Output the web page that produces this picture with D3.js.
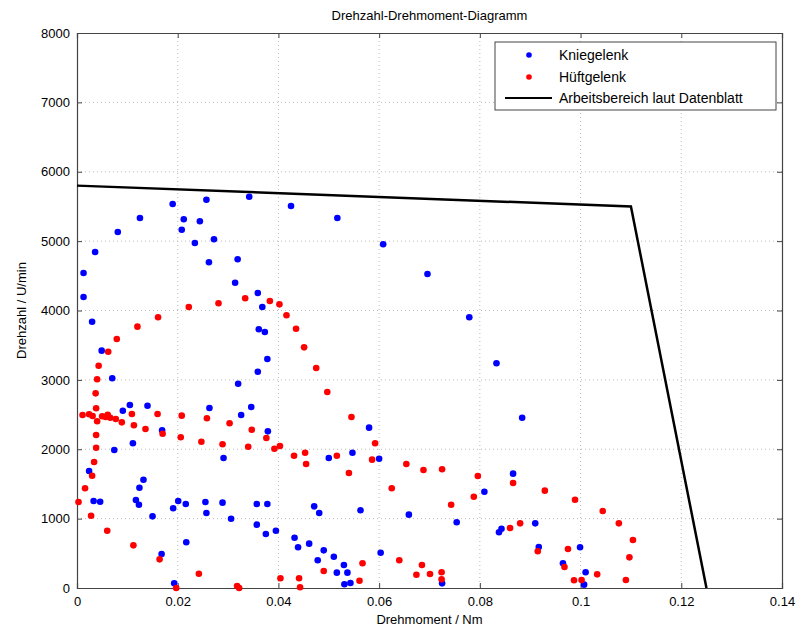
<!DOCTYPE html>
<html><head><meta charset="utf-8">
<script src="https://cdn.jsdelivr.net/npm/d3@7"></script>
<style>body{margin:0;background:#fff;font-family:"Liberation Sans",Arial,sans-serif;}</style>
</head><body>
<svg id="c" width="798" height="632"></svg>
<script>
const xTicks = [0,0.02,0.04,0.06,0.08,0.1,0.12,0.14];
const yTicks = [0,1000,2000,3000,4000,5000,6000,7000,8000];
const kneeTorque = [0.019,0.0257,0.0125,0.0212,0.0244,0.0081,0.0208,0.0272,0.0234,0.0036,0.0262,0.0013,0.0013,
 0.0342,0.0425,0.0517,0.0608,0.0319,0.0314,0.0359,0.0368,0.0696,0.0779,0.0833,0.0884,
 0.0030,0.0049,0.0070,0.0105,0.0140,0.0091,0.0169,0.0111,0.0074,0.0263,
 0.0361,0.0373,0.0378,0.0359,0.0320,0.0346,0.0326,0.0580,0.0379,
 0.0291,0.0500,0.0547,0.0600,0.0289,0.0357,0.0378,0.0471,0.0481,0.0563,0.0306,0.0357,0.0395,0.0375,0.0432,0.0461,0.0439,0.0490,0.0510,0.0478,0.0530,0.0516,0.0537,0.0603,0.0531,0.0543,
 0.0024,0.0132,0.0124,0.0033,0.0046,0.0117,0.0123,0.0150,0.0201,0.0191,0.0216,0.0255,0.0257,0.0217,0.0168,0.0193,
 0.0809,0.0659,0.0754,0.0866,0.0843,0.0838,0.0910,0.0917,0.0999,0.0965,0.0725,0.1010,0.1007];
const kneeSpeed = [5536,5597,5333,5315,5286,5131,5165,5026,4973,4843,4695,4540,4195,
 5640,5506,5333,4954,4738,4401,4252,4050,4526,3902,3239,2455,
 3838,3421,3023,2638,2628,2556,2273,2086,1989,2595,
 3729,3690,3301,3118,2945,2609,2494,2311,2258,
 1874,1874,1950,1864,1230,1211,1211,1177,1081,1120,999,913,826,778,725,639,587,543,451,399,332,221,221,509,53,72,
 1686,1561,1446,1254,1244,1268,1201,1033,1254,1149,1211,1240,1081,659,490,67,
 1388,1057,947,1648,855,803,932,591,587,356,67,226,48];
const hipTorque = [0.0222,0.0281,0.0334,0.0383,0.0402,
 0.0161,0.0120,0.0079,0.0062,0.0043,0.0040,0.0037,0.0038,0.0011,0.0024,0.0031,0.0050,0.0061,0.0057,0.0066,0.0077,0.0089,0.0040,0.0109,0.0160,0.0113,0.0136,0.0170,0.0038,0.0038,0.0208,0.0258,0.0206,0.0247,0.0289,
 0.0416,0.0435,0.0451,0.0475,0.0497,0.0545,0.0303,0.0347,0.0376,0.0340,0.0392,0.0403,0.0592,
 0.0431,0.0453,0.0455,0.0516,0.0540,0.0586,0.0625,0.0567,0.0490,0.0640,0.0404,0.0441,0.0443,0.0318,0.0322,0.0561,
 0.0034,0.0030,0.0016,0.0003,0.0028,0.0060,0.0112,0.0164,0.0242,0.0197,
 0.0654,0.0688,0.0725,0.0796,0.0788,0.0743,0.0866,0.0929,0.0989,0.0880,0.0860,0.0915,0.0975,0.0968,0.0685,0.0674,0.0701,0.0724,0.0724,0.0987,0.1002,
 0.1044,0.1076,0.1104,0.1097,0.1033,0.1090];
const hipSpeed = [4050,4104,4176,4137,4089,
 3902,3767,3589,3406,3204,3008,2806,2590,2494,2504,2479,2475,2498,2465,2455,2436,2388,2403,2508,2508,2345,2292,2224,2205,2022,2484,2446,2172,2109,2071,
 3931,3738,3469,3171,2825,2465,2374,2282,2162,2037,2008,2047,2086,
 1907,1950,1787,1907,1658,1850,1437,356,245,399,140,140,10,29,0,105,
 1816,1619,1437,1240,1042,826,615,413,206,0,
 1787,1701,1711,1614,1316,1201,1514,1403,1273,932,865,529,562,303,332,192,202,226,125,111,115,
 1110,932,692,442,197,115];
const limitTorque = [0,0.11,0.125];
const limitSpeed = [5800,5500,0];
const seriesNames = ["Kniegelenk","Hüftgelenk","Arbeitsbereich laut Datenblatt"];

const svg = d3.select("#c");
const L=77,R=782,T=33,B=588;
const x = d3.scaleLinear().domain([0,0.14]).range([L,R]);
const y = d3.scaleLinear().domain([0,8000]).range([B,T]);
const font = '"Liberation Sans",Arial,sans-serif';

// grid
const g = svg.append("g");
g.selectAll(".gx").data(xTicks.slice(1,-1)).enter().append("line")
 .attr("x1",d=>x(d)).attr("x2",d=>x(d)).attr("y1",T).attr("y2",B)
 .attr("stroke","#bbb").attr("stroke-width",1).attr("stroke-dasharray","1,3");
g.selectAll(".gy").data(yTicks.slice(1,-1)).enter().append("line")
 .attr("y1",d=>y(d)).attr("y2",d=>y(d)).attr("x1",L).attr("x2",R)
 .attr("stroke","#bbb").attr("stroke-width",1).attr("stroke-dasharray","1,3");

// axes
const xa = svg.append("g").attr("transform",`translate(0,${B})`)
 .call(d3.axisBottom(x).tickValues(xTicks).tickSize(-5).tickPadding(9).tickFormat(d=>d===0?"0":String(+d.toFixed(2))));
const xt = svg.append("g").attr("transform",`translate(0,${T})`)
 .call(d3.axisTop(x).tickValues(xTicks).tickSize(-5).tickFormat(""));
const ya = svg.append("g").attr("transform",`translate(${L},0)`)
 .call(d3.axisLeft(y).tickValues(yTicks).tickSize(-5).tickPadding(7).tickFormat(d3.format("d")));
const yr = svg.append("g").attr("transform",`translate(${R},0)`)
 .call(d3.axisRight(y).tickValues(yTicks).tickSize(-5).tickFormat(""));
[xa,xt,ya,yr].forEach(a=>{
  a.select(".domain").attr("stroke","#444").attr("stroke-width",1.2);
  a.selectAll(".tick line").attr("stroke","#444");
  a.selectAll("text").attr("font-family",font).attr("font-size",13).attr("fill","#000");
});

// points
svg.append("g").selectAll("circle").data(kneeTorque.map((t,i)=>[t,kneeSpeed[i]])).enter().append("circle")
 .attr("cx",d=>x(d[0])).attr("cy",d=>y(d[1])).attr("r",3.3).attr("fill","#0000ff");
svg.append("g").selectAll("circle").data(hipTorque.map((t,i)=>[t,hipSpeed[i]])).enter().append("circle")
 .attr("cx",d=>x(d[0])).attr("cy",d=>y(d[1])).attr("r",3.3).attr("fill","#ff0000");

// limit line
svg.append("path").datum(limitTorque.map((t,i)=>[t,limitSpeed[i]]))
 .attr("d",d3.line().x(d=>x(d[0])).y(d=>y(d[1])))
 .attr("fill","none").attr("stroke","#000").attr("stroke-width",2.5);

// title & labels
svg.append("text").attr("x",(L+R)/2).attr("y",20).attr("text-anchor","middle")
 .attr("font-family",font).attr("font-size",13).text("Drehzahl-Drehmoment-Diagramm");
svg.append("text").attr("x",(L+R)/2).attr("y",624).attr("text-anchor","middle")
 .attr("font-family",font).attr("font-size",13).text("Drehmoment / Nm");
svg.append("text").attr("transform",`translate(26,${(T+B)/2}) rotate(-90)`).attr("text-anchor","middle")
 .attr("font-family",font).attr("font-size",13).text("Drehzahl / U/min");

// legend
const lg = svg.append("g");
lg.append("rect").attr("x",495).attr("y",42).attr("width",281).attr("height",68)
 .attr("fill","#fff").attr("stroke","#444").attr("stroke-width",1);
const ly=[55,77,98];
lg.append("circle").attr("cx",529).attr("cy",ly[0]).attr("r",2.8).attr("fill","#0000ff");
lg.append("circle").attr("cx",529).attr("cy",ly[1]).attr("r",2.8).attr("fill","#ff0000");
lg.append("line").attr("x1",505).attr("x2",552).attr("y1",ly[2]).attr("y2",ly[2]).attr("stroke","#000").attr("stroke-width",2);
seriesNames.forEach((n,i)=>lg.append("text").attr("x",559).attr("y",ly[i]+5)
 .attr("font-family",font).attr("font-size",14).text(n));
</script>
</body></html>
